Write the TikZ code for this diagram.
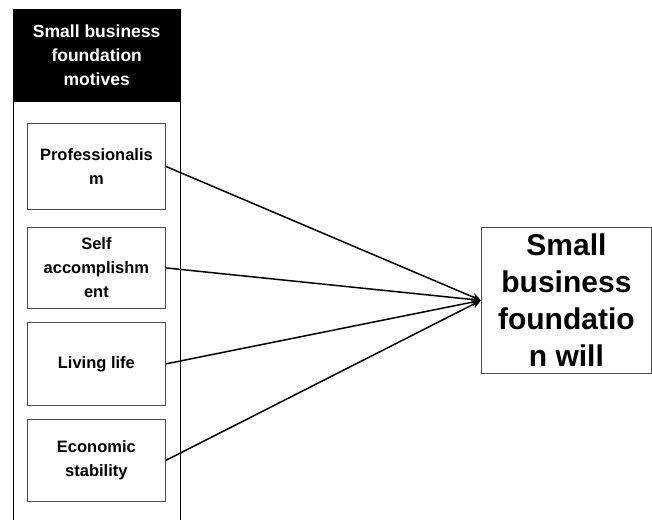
\documentclass[tikz,border=0pt]{standalone}
\usepackage{fontspec}
\setmainfont{Liberation Sans}
\usetikzlibrary{arrows.meta}
\begin{document}
\begin{tikzpicture}[x=1pt,y=-1pt,
  motive/.style={draw=black!70, line width=0.8pt, fill=white, inner sep=0pt,
    font=\fontsize{16.5}{24}\selectfont\bfseries, align=center},
  link/.style={line width=1.5pt, -{Stealth[length=9pt,width=8pt]}}]
\useasboundingbox (0,0) rectangle (652,519);
\begin{scope}
\clip (0,0) rectangle (652,519);
\node[draw=black, line width=0.8pt, minimum width=167pt, minimum height=530pt, anchor=north west, inner sep=0pt] (frame) at (13,9) {};
\node[fill=black, text=white, minimum width=167pt, minimum height=93pt, anchor=north west, inner sep=0pt,
  font=\fontsize{17.5}{24}\selectfont\bfseries, align=center] (header) at (13,9) {Small business\\foundation\\motives};
\end{scope}
\node[motive, minimum width=138pt, minimum height=86pt, anchor=north west] (b1) at (27,123) {Professionalis\\m};
\node[motive, minimum width=138pt, minimum height=81pt, anchor=north west] (b2) at (27,227) {Self\\accomplishm\\ent};
\node[motive, minimum width=138pt, minimum height=83pt, anchor=north west] (b3) at (27,322) {Living life};
\node[motive, minimum width=138pt, minimum height=82pt, anchor=north west] (b4) at (27,419) {Economic\\stability};
\node[draw=black!70, line width=0.8pt, minimum width=170pt, minimum height=146pt, anchor=north west, inner sep=0pt,
  font=\fontsize{30}{37}\selectfont\bfseries, align=center] (will) at (481,227) {Small\\business\\foundatio\\n will};
\draw[link] (b1.east) -- (will.west);
\draw[link] (b2.east) -- (will.west);
\draw[link] (b3.east) -- (will.west);
\draw[link] (b4.east) -- (will.west);
\end{tikzpicture}
\end{document}
